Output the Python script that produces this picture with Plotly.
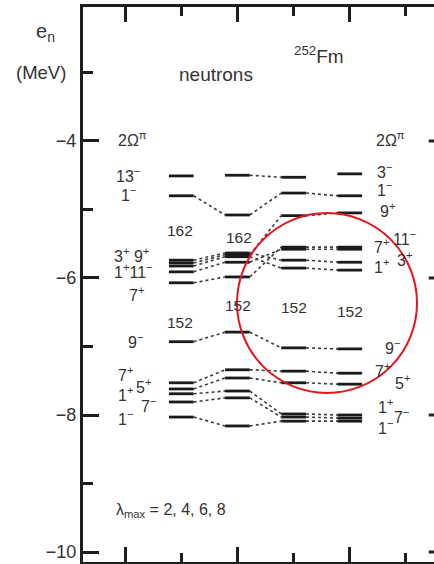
import plotly.graph_objects as go

# ---- data -------------------------------------------------------------
lambda_max = [2, 4, 6, 8]          # four calculations (columns)
columns = [2, 3, 4, 5]             # x position of each column
y_ticks = [-4, -6, -8, -10]
y_tick_text = ["\u22124", "\u22126", "\u22128", "\u221210"]
y_minor = [-3, -5, -7, -9]

# single-particle neutron energies e_n (MeV) per column (None = not drawn)
e_13m = [-4.51, -4.50, -4.53, None]
e_3m = [None, None, None, -4.48]
e_1m_a = [-4.80, -5.08, -4.76, -4.80]
e_9p = [-5.78, -5.66, -5.09, -5.05]
e_3p = [-5.74, -5.635, -5.74, -5.77]
e_1p_a = [-5.825, -5.69, -5.855, -5.885]
e_11m = [-5.91, -5.77, -5.58, -5.58]
e_7p_a = [-6.07, -5.985, -5.55, -5.55]
e_9m = [-6.93, -6.79, -7.02, -7.035]
e_7p_b = [-7.53, -7.34, -7.36, -7.39]
e_5p = [-7.62, -7.46, -7.53, -7.55]
e_1p_b = [-7.69, -7.65, -7.985, -8.00]
e_7m = [-7.81, -7.75, -8.03, -8.045]
e_1m_b = [-8.03, -8.16, -8.09, -8.09]

levels = [e_13m, e_3m, e_1m_a, e_9p, e_3p, e_1p_a, e_11m, e_7p_a,
          e_9m, e_7p_b, e_5p, e_1p_b, e_7m, e_1m_b]
# which gaps between neighbouring columns carry a dotted connector
links = {0: [False, True, False]}

HALF = 0.22

# ---- build marks --------------------------------------------------------
seg_x, seg_y, con_x, con_y = [], [], [], []
for i, lev in enumerate(levels):
    for c, e in zip(columns, lev):
        if e is None:
            continue
        seg_x += [c - HALF, c + HALF, None]
        seg_y += [e, e, None]
    lk = links.get(i, [True, True, True])
    for k in range(len(columns) - 1):
        if lk[k] and lev[k] is not None and lev[k + 1] is not None:
            con_x += [columns[k] + HALF, columns[k + 1] - HALF, None]
            con_y += [lev[k], lev[k + 1], None]

fig = go.Figure()
fig.add_trace(go.Scatter(x=con_x, y=con_y, mode="lines",
                         line=dict(color="#3a3a3a", width=1.6, dash="dot"),
                         hoverinfo="skip", showlegend=False))
fig.add_trace(go.Scatter(x=seg_x, y=seg_y, mode="lines",
                         line=dict(color="#1a1a1a", width=2.8),
                         hoverinfo="skip", showlegend=False))

# ---- layout helpers (pixel -> paper/data for text placement) -------------
W, H = 434, 564
ML, MR, MT, MB = 83, 0, 7, 2
XR = [0.25, 6.5]
YR = [-10.146, -2.044]
PW, PH = W - ML - MR, H - MT - MB


def px2x(px):
    return XR[0] + (px - ML) / PW * (XR[1] - XR[0])


def py2y(py):
    return YR[1] - (py - MT) / PH * (YR[1] - YR[0])


def px2p(px):
    return (px - ML) / PW


def py2p(py):
    return 1 - (py - MT) / PH


TXT = "#333333"
FONT = "Liberation Sans, Arial, sans-serif"
ann = []


def label(text, px, py, size=16, anchor="left"):
    ann.append(dict(text=text, x=px2p(px), y=py2p(py), xref="paper", yref="paper",
                    xanchor=anchor, yanchor="middle", showarrow=False,
                    font=dict(size=size, color=TXT, family=FONT)))


label("e<sub>n</sub>", 34, 33, 20)
label("(MeV)", 14, 72, 18.5)
label("neutrons", 177, 75, 19)
label("<sup>252</sup>Fm", 292, 55, 19)
label("2\u03a9<sup>\u03c0</sup>", 116, 139, 16)
label("2\u03a9<sup>\u03c0</sup>", 374, 139, 16)

# left level labels
label("13<sup>\u2212</sup>", 114, 175, 16)
label("1<sup>\u2212</sup>", 119, 194, 16)
label("3<sup>+</sup> 9<sup>+</sup>", 112, 255, 16)
label("1<sup>+</sup>11<sup>\u2212</sup>", 112, 271, 16)
label("7<sup>+</sup>", 127, 294, 16)
label("9<sup>\u2212</sup>", 126, 341, 16)
label("7<sup>+</sup>", 116, 374, 16)
label("5<sup>+</sup>", 134, 386, 16)
label("1<sup>+</sup>", 116, 394, 16)
label("7<sup>\u2212</sup>", 139, 405, 16)
label("1<sup>\u2212</sup>", 116, 418, 16)

# shell gaps
label("162", 165, 230, 15.5)
label("162", 224, 237, 15.5)
label("152", 165, 322, 15.5)
label("152", 223, 305, 15.5)
label("152", 279, 307, 15.5)
label("152", 335, 311, 15.5)

# right level labels
label("3<sup>\u2212</sup>", 375, 171, 16)
label("1<sup>\u2212</sup>", 375, 189, 16)
label("9<sup>+</sup>", 378, 210, 16)
label("7<sup>+</sup>", 372, 246, 16)
label("11<sup>\u2212</sup>", 391, 238, 16)
label("1<sup>+</sup>", 372, 266, 16)
label("3<sup>+</sup>", 395, 259, 16)
label("9<sup>\u2212</sup>", 383, 347, 16)
label("7<sup>+</sup>", 373, 370, 16)
label("5<sup>+</sup>", 393, 382, 16)
label("1<sup>+</sup>", 376, 406, 16)
label("7<sup>\u2212</sup>", 392, 416, 16)
label("1<sup>\u2212</sup>", 376, 427, 16)

label("\u03bb<sub>max</sub> = " + ", ".join(str(v) for v in lambda_max), 114, 510, 16)

shapes = [dict(type="circle", xref="x", yref="y",
               x0=px2x(237), x1=px2x(417), y0=py2y(393), y1=py2y(213),
               line=dict(color="#e8141b", width=2))]
for t in y_ticks:
    shapes.append(dict(type="line", xref="paper", yref="y", x0=0.985, x1=1.0,
                       y0=t, y1=t, line=dict(color="#222", width=3)))

axis_common = dict(showgrid=False, zeroline=False, showline=True,
                   linecolor="#1e1e1e", linewidth=3, ticks="inside",
                   tickcolor="#1e1e1e", tickwidth=2.5)

fig.update_layout(
    width=W, height=H, margin=dict(l=ML, r=MR, t=MT, b=MB),
    paper_bgcolor="white", plot_bgcolor="white",
    xaxis=dict(range=XR, tickvals=[1, 3, 5], ticklen=15, showticklabels=False,
               mirror="allticks",
               minor=dict(tickvals=[2, 4, 6], ticklen=9, ticks="inside",
                          tickwidth=2.5, tickcolor="#1e1e1e"),
               **axis_common),
    yaxis=dict(range=YR, tickvals=y_ticks, ticktext=y_tick_text, ticklen=16,
               tickfont=dict(size=18, color=TXT, family=FONT),
               minor=dict(tickvals=y_minor, ticklen=10, ticks="inside",
                          tickwidth=2.5, tickcolor="#1e1e1e"),
               **axis_common),
    annotations=ann, shapes=shapes, showlegend=False,
)

fig.write_html("out.html")
